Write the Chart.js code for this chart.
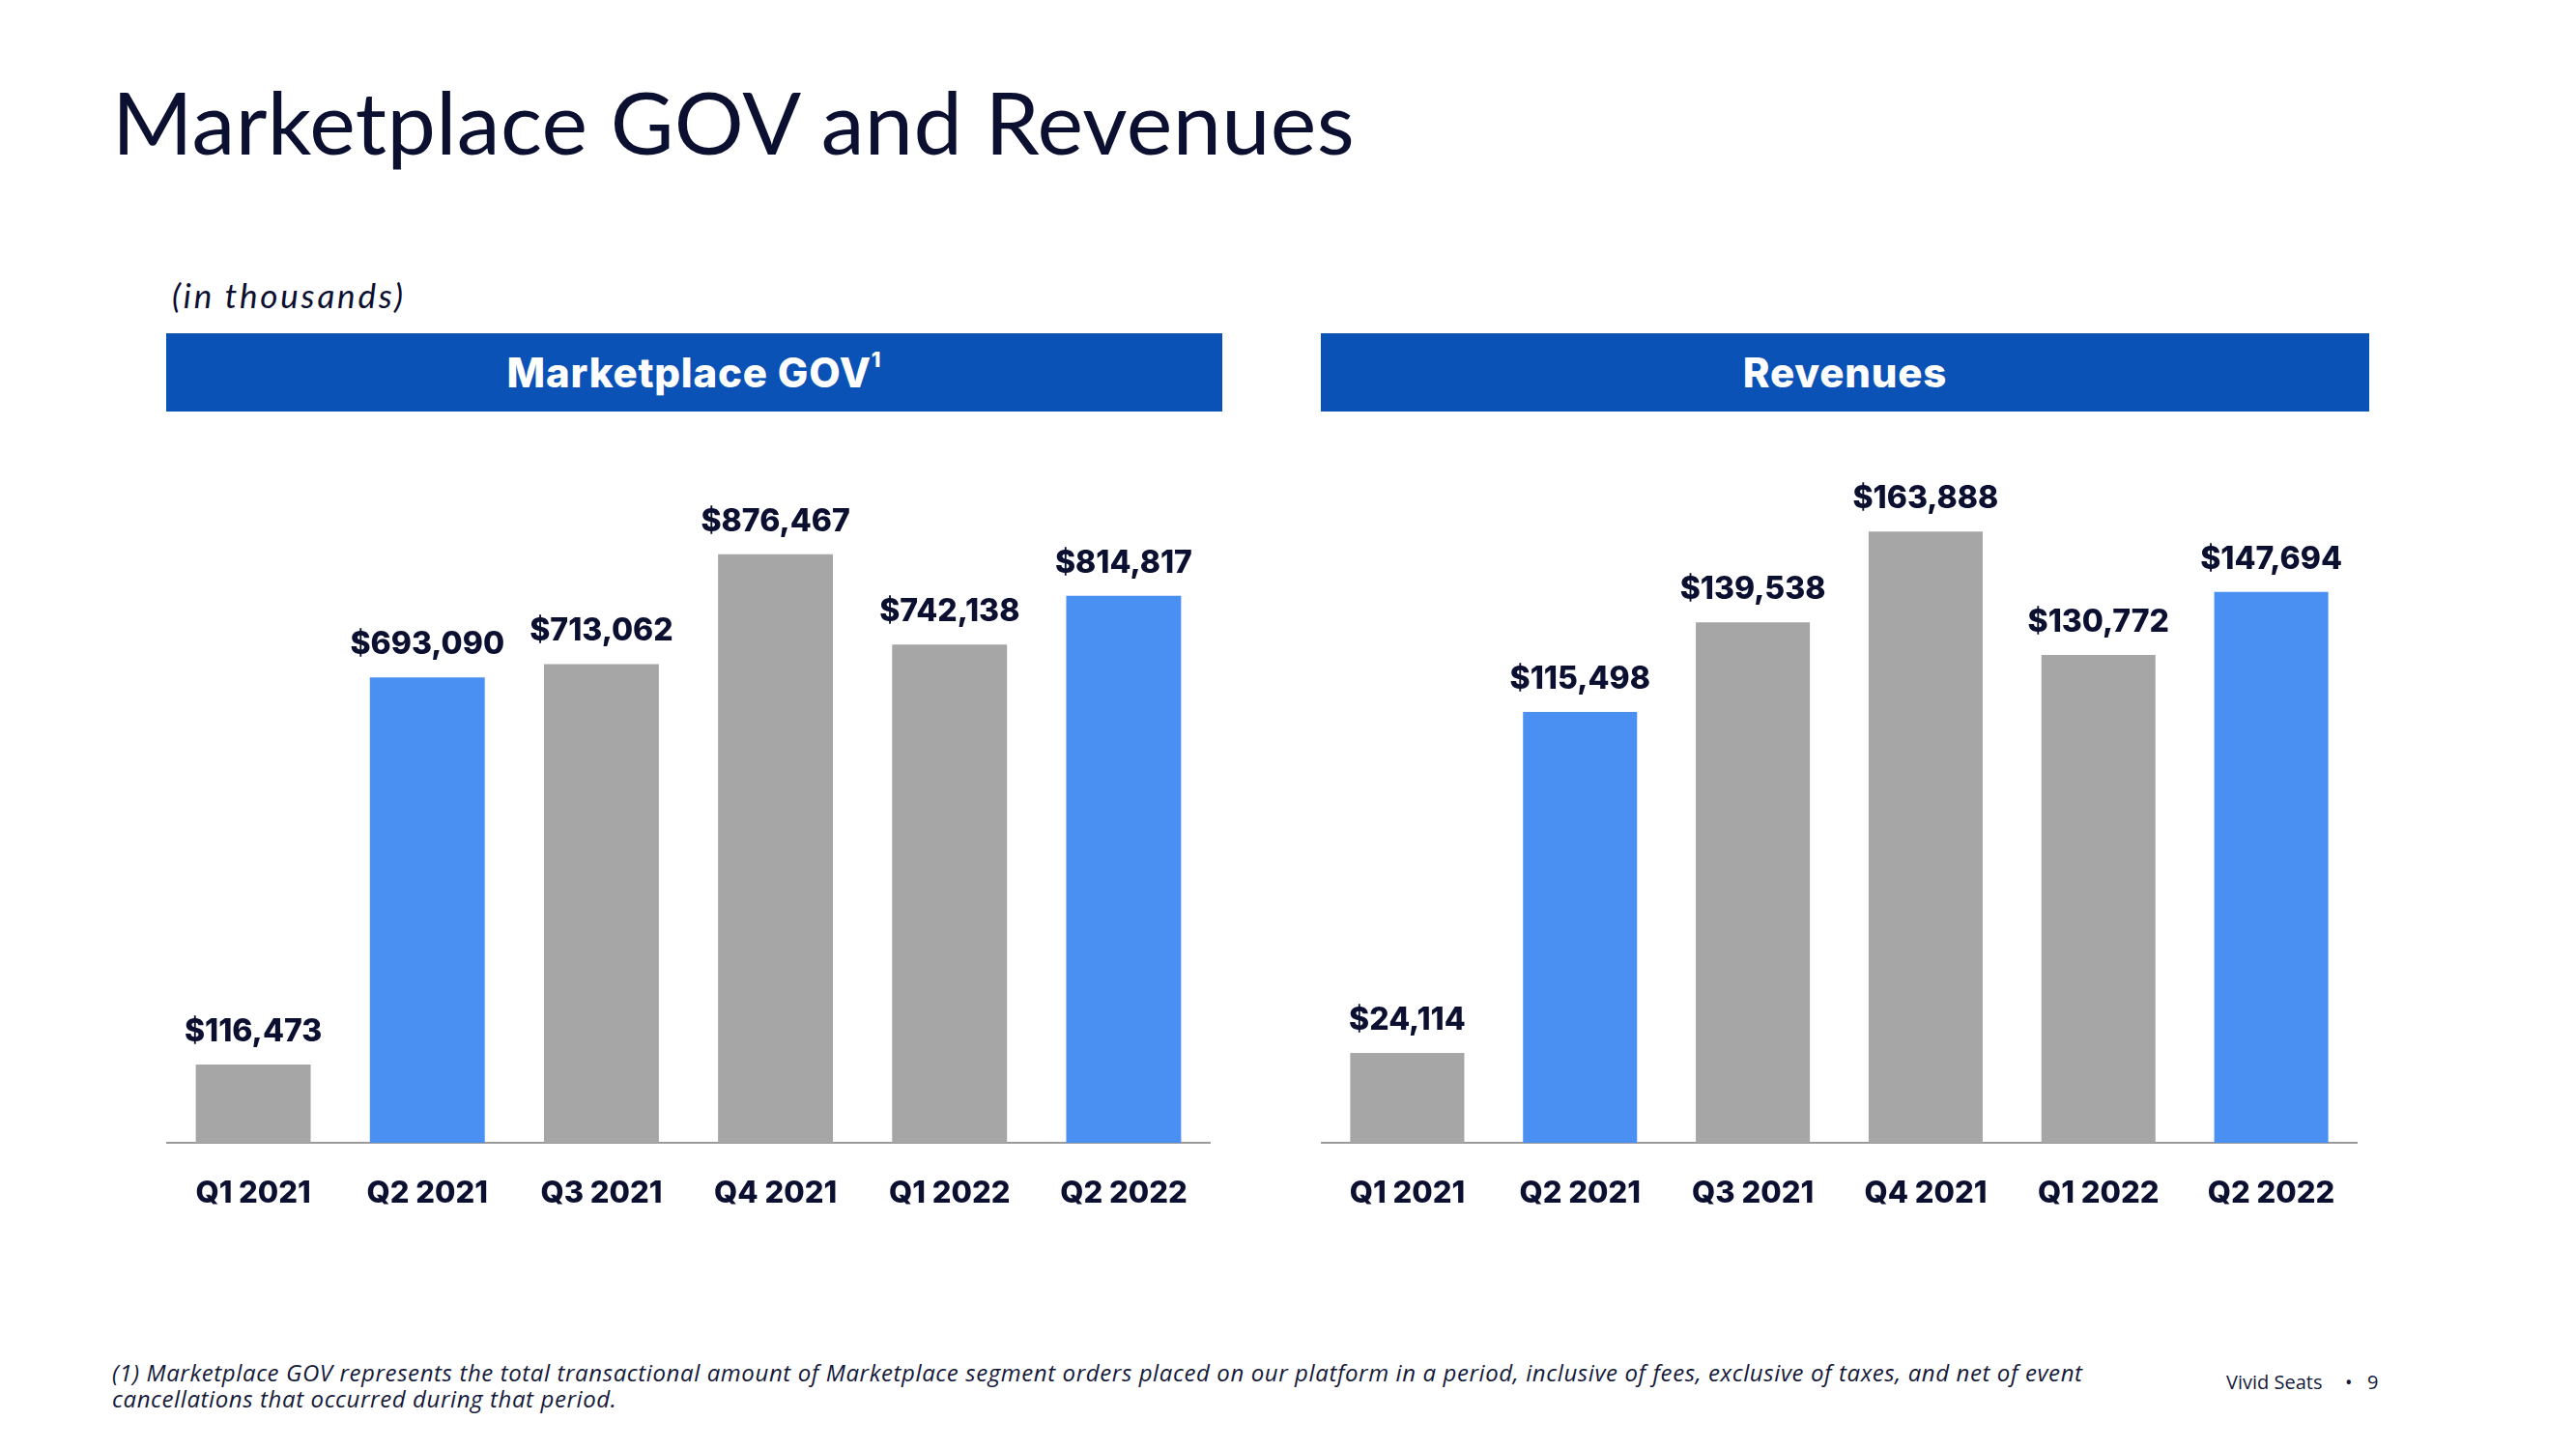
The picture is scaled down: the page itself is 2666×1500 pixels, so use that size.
<!DOCTYPE html>
<html>
<head>
<meta charset="utf-8">
<script src="https://cdn.jsdelivr.net/npm/chart.js@4"></script>
<style>
  html, body { margin:0; padding:0; background:#fff; }
  body { width:2666px; height:1500px; position:relative; overflow:hidden; font-family: Lato, "Noto Sans", sans-serif; color:#0b0f30; }
  .abs { position:absolute; }
  #title { left:116px; top:71px; font-family: Lato, sans-serif; font-size:90px; font-weight:400; color:#0b0f30; white-space:nowrap; letter-spacing:0.35px; }
  #units { left:178px; top:284px; font-family: Lato, sans-serif; font-style:italic; font-size:35px; font-weight:400; color:#0b0f30; white-space:nowrap; letter-spacing:2.8px; }
  .hdr { top:345px; height:81px; background:#0b52b7; color:#fff; font-family: Inter, Roboto, sans-serif; font-weight:800; font-size:42px; display:flex; align-items:center; justify-content:center; letter-spacing:0.8px; }
  .hdr sup { font-size:22px; position:relative; top:-6px; }
  #hdrL { left:172px; width:1093px; }
  #hdrR { left:1367px; width:1085px; }
  #foot { left:116px; top:1407px; font-family: "Open Sans", sans-serif; font-style:italic; font-size:24px; line-height:27px; color:#14193a; white-space:nowrap; letter-spacing:0.6px; }
  .brand { top:1417px; font-family: "Open Sans", sans-serif; font-size:20px; color:#14193a; white-space:nowrap; }
  canvas { position:absolute; }
</style>
</head>
<body>
<div id="title" class="abs">Marketplace GOV and Revenues</div>
<div id="units" class="abs">(in thousands)</div>
<div id="hdrL" class="abs hdr"><span>Marketplace GOV<sup>1</sup></span></div>
<div id="hdrR" class="abs hdr"><span>Revenues</span></div>
<div id="wrapL" class="abs" style="left:172px;top:400px;width:1081px;height:883px;"><canvas id="govChart"></canvas></div>
<div id="wrapR" class="abs" style="left:1367px;top:400px;width:1073px;height:883px;"><canvas id="revChart"></canvas></div>
<div id="foot" class="abs">(1) Marketplace GOV represents the total transactional amount of Marketplace segment orders placed on our platform in a period, inclusive of fees, exclusive of taxes, and net of event<br>cancellations that occurred during that period.</div>
<div class="abs brand" style="left:2304px;">Vivid Seats</div>
<div class="abs brand" style="left:2427px;">•</div>
<div class="abs brand" style="left:2450px;">9</div>

<script>
// ---- data ----
const categories = ["Q1 2021", "Q2 2021", "Q3 2021", "Q4 2021", "Q1 2022", "Q2 2022"];
const govValues = [116473, 693090, 713062, 876467, 742138, 814817];
const revenueValues = [24114, 115498, 139538, 163888, 130772, 147694];
const govMax = 1000000;
const revenueMax = 180000;

// ---- styles ----
const GRAY = "#a6a6a6";
const BLUE = "#4a90f2";
const barColors = [GRAY, BLUE, GRAY, GRAY, GRAY, BLUE];
const NAVY = "#0b0f30";
const BOLD_FONT = "Inter, Roboto, sans-serif";

const valueLabels = {
  id: "valueLabels",
  afterDatasetsDraw(chart) {
    const ctx = chart.ctx;
    const meta = chart.getDatasetMeta(0);
    const data = chart.data.datasets[0].data;
    ctx.save();
    ctx.font = "800 32px " + BOLD_FONT;
    ctx.fillStyle = NAVY;
    ctx.textAlign = "center";
    ctx.textBaseline = "alphabetic";
    meta.data.forEach((bar, i) => {
      ctx.fillText("$" + data[i].toLocaleString("en-US"), bar.x, bar.y - 24);
    });
    ctx.restore();
  }
};

function makeChart(id, values, max) {
  return new Chart(document.getElementById(id), {
    type: "bar",
    data: {
      labels: categories,
      datasets: [{
        data: values,
        backgroundColor: barColors,
        borderWidth: 0,
        categoryPercentage: 1.0,
        barPercentage: 0.66
      }]
    },
    options: {
      responsive: true,
      maintainAspectRatio: false,
      animation: false,
      devicePixelRatio: 1,
      layout: { padding: { top: 88, left: 0, right: 0, bottom: 0 } },
      plugins: { legend: { display: false }, tooltip: { enabled: false }, title: { display: false } },
      scales: {
        x: {
          grid: { display: false, drawTicks: false },
          border: { display: true, color: "#9a9a9a", width: 2 },
          ticks: { color: NAVY, font: { family: BOLD_FONT, size: 31, weight: "800", lineHeight: 3.4 }, padding: 0, maxRotation: 0 },
          afterFit: (scale) => { scale.height = 100; }
        },
        y: { display: false, min: 0, max: max, beginAtZero: true }
      }
    },
    plugins: [valueLabels]
  });
}

makeChart("govChart", govValues, govMax);
makeChart("revChart", revenueValues, revenueMax);
</script>
</body>
</html>
